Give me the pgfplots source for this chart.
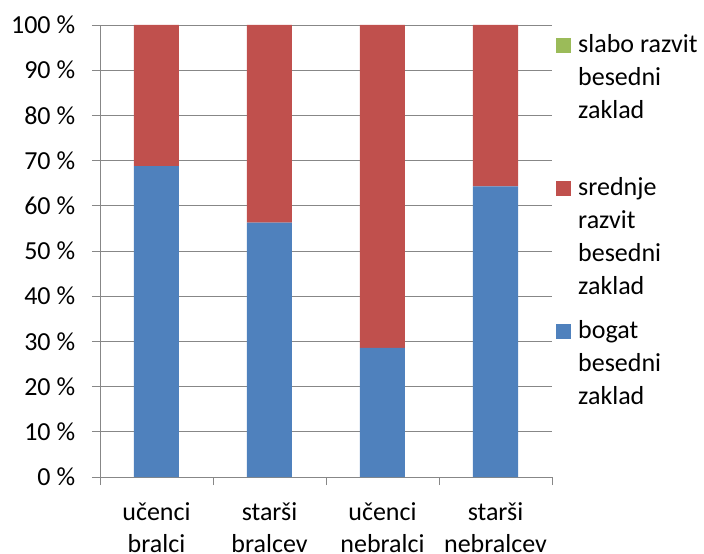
\documentclass[border=0pt]{standalone}
\usepackage{fontspec}
\setmainfont{Carlito}
\usepackage{pgfplots}
\pgfplotsset{compat=1.18}
\usetikzlibrary{calc}
\definecolor{cblue}{HTML}{4F81BD}
\definecolor{cred}{HTML}{C0504D}
\definecolor{cgreen}{HTML}{9BBB59}
\definecolor{cgrid}{HTML}{878787}
\newcommand{\lgt}[1]{\begin{tabular}[t]{@{}l@{}}#1\end{tabular}}
\begin{document}
\fontsize{26}{33}\selectfont
\begin{tikzpicture}
\begin{axis}[name=ax,
  scale only axis, width=452pt, height=452pt,
  ybar stacked, bar width=45pt,
  xmin=-0.5, xmax=3.5, ymin=0, ymax=100,
  xtick={0,1,2,3},
  xticklabels={učenci\\bralci, starši\\bralcev, učenci\\nebralci, starši\\nebralcev},
  xticklabel style={align=center, font=\fontsize{26}{32}\selectfont, yshift=-9pt},
  minor xtick={-0.5,0.5,1.5,2.5,3.5},
  major x tick style={draw=none},
  minor x tick style={draw=cgrid, line width=0.9pt},
  minor tick length=8pt,
  major tick length=8pt,
  tick align=outside,
  ytick={0,10,...,100},
  yticklabels={0~\%,10~\%,20~\%,30~\%,40~\%,50~\%,60~\%,70~\%,80~\%,90~\%,100~\%},
  yticklabel style={font=\fontsize{26}{30}\selectfont, xshift=-8pt},
  major y tick style={draw=cgrid, line width=0.9pt},
  ymajorgrids, grid style={cgrid, line width=0.9pt},
  axis x line*=bottom, axis y line*=left,
  axis line style={cgrid, line width=0.9pt, -},
  reverse legend,
  legend image code/.code={\fill[#1] (0pt,-1pt) rectangle (15pt,14pt); \path (22pt,0pt);},
  legend style={draw=none, fill=none, inner sep=0pt, row sep=11pt,
    font=\fontsize{26}{33}\selectfont,
    cells={anchor=base west},
    nodes={inner sep=0pt, text depth=},
    at={(rel axis cs:1,1)}, anchor=north west, xshift=4pt, yshift=-3.9pt},
]
\addplot[fill=cblue, draw=none] coordinates {(0,68.75) (1,56.25) (2,28.57) (3,64.29)};
\addlegendentry{\lgt{bogat\\besedni\\zaklad}}
\addplot[fill=cred, draw=none] coordinates {(0,31.25) (1,43.75) (2,71.43) (3,35.71)};
\addlegendentry{\lgt{srednje\\razvit\\besedni\\zaklad}}
\addplot[fill=cgreen, draw=none] coordinates {(0,0) (1,0) (2,0) (3,0)};
\addlegendentry{\lgt{slabo razvit\\besedni\\zaklad\\\mbox{}}}
\end{axis}
\pgfresetboundingbox
\path ($(ax.south west)+(-100pt,-77pt)$) rectangle ($(ax.south west)+(604pt,477pt)$);
\end{tikzpicture}
\end{document}
